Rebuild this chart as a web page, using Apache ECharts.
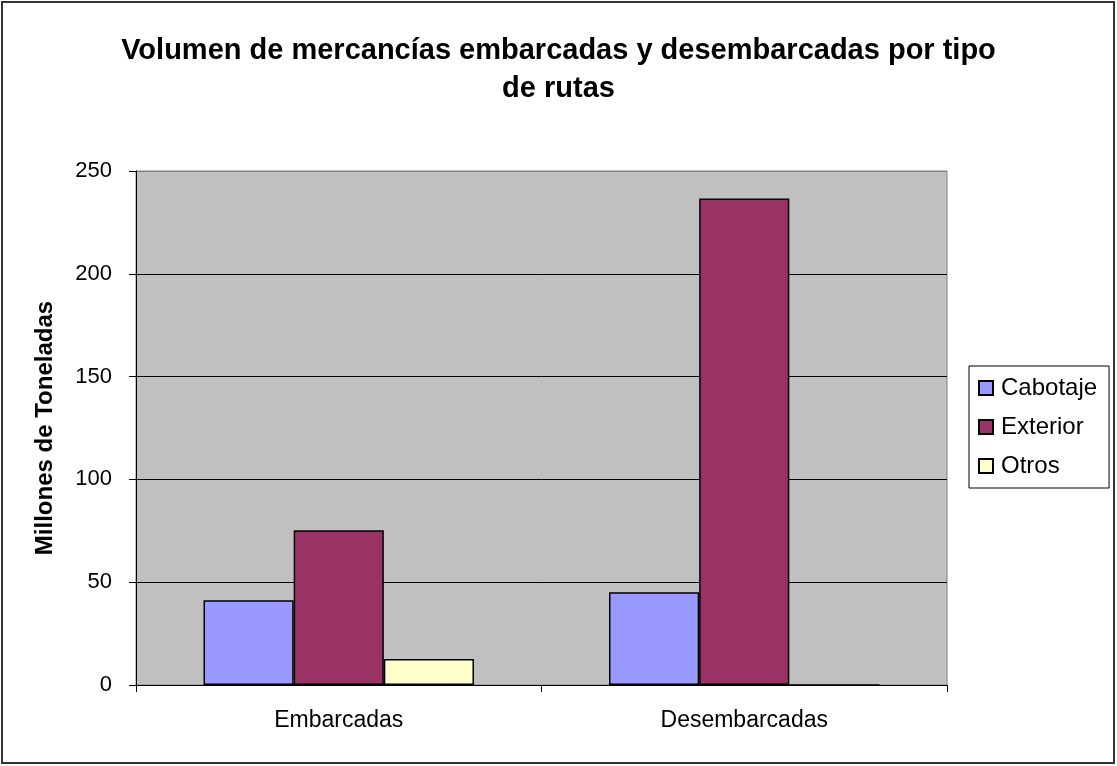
<!DOCTYPE html>
<html>
<head>
<meta charset="utf-8">
<script src="https://cdn.jsdelivr.net/npm/echarts@6/dist/echarts.min.js"></script>
<style>
  html, body { margin: 0; padding: 0; background: #fff; }
  #main { width: 1117px; height: 766px; }
</style>
</head>
<body>
<div id="main"></div>
<script>
// datos del gráfico
var categorias = ['Embarcadas', 'Desembarcadas'];
var cabotaje = [41.2, 45.1];
var exterior = [75.3, 236.6];
var otros = [12.6, 0];
var nombresSeries = ['Cabotaje', 'Exterior', 'Otros'];
var colores = ['#9999FF', '#993366', '#FFFFCC'];
var ticksY = [0, 50, 100, 150, 200, 250];

var fuente = 'Liberation Sans';
var myChart = echarts.init(document.getElementById('main'));

function serie(nombre, datos, color) {
  return {
    name: nombre,
    type: 'bar',
    data: datos,
    barGap: '0%',
    barCategoryGap: '33.3%',
    itemStyle: { color: color, borderColor: '#000', borderWidth: 1.5 },
    emphasis: { disabled: true }
  };
}

myChart.setOption({
  animation: false,
  backgroundColor: '#fff',
  textStyle: { fontFamily: fuente },
  title: {
    text: 'Volumen de mercancías embarcadas y desembarcadas por tipo\nde rutas',
    left: 'center',
    top: 27,
    textStyle: { fontFamily: fuente, fontSize: 29, fontWeight: 'bold', color: '#000', lineHeight: 38 }
  },
  graphic: [{
    type: 'rect',
    shape: { x: 2, y: 2, width: 1112, height: 761 },
    style: { fill: 'none', stroke: '#333', lineWidth: 2 },
    silent: true
  }],
  legend: {
    orient: 'vertical',
    left: 969,
    top: 366,
    data: nombresSeries,
    icon: 'rect',
    itemWidth: 14,
    itemHeight: 14,
    itemGap: 15,
    padding: [10, 12, 10, 9],
    borderColor: '#000',
    borderWidth: 1,
    textStyle: { fontFamily: fuente, fontSize: 24, color: '#000', padding: [0, 0, 0, 3] }
  },
  grid: {
    left: 136,
    right: 170,
    top: 171,
    bottom: 81,
    show: true,
    backgroundColor: '#C0C0C0',
    borderColor: '#808080',
    borderWidth: 1
  },
  xAxis: {
    type: 'category',
    data: categorias,
    axisLine: { lineStyle: { color: '#000', width: 1 } },
    axisTick: { show: true, length: 7, lineStyle: { color: '#000' } },
    axisLabel: { margin: 24, fontSize: 23, color: '#000', fontFamily: fuente }
  },
  yAxis: {
    type: 'value',
    min: 0,
    max: 250,
    interval: 50,
    name: 'Millones de Toneladas',
    nameLocation: 'middle',
    nameGap: 79,
    nameTextStyle: { fontFamily: fuente, fontSize: 24, fontWeight: 'bold', color: '#000' },
    axisLine: { show: true, lineStyle: { color: '#000', width: 1 } },
    axisTick: { show: true, length: 7, lineStyle: { color: '#000' } },
    axisLabel: {
      margin: 24, fontSize: 22, color: '#000', fontFamily: fuente,
      formatter: function (v) { return ticksY.indexOf(v) >= 0 ? String(v) : ''; }
    },
    splitLine: { show: true, lineStyle: { color: ['#000', '#000', '#000', '#000', '#000', '#808080'], width: 1 } }
  },
  series: [
    serie(nombresSeries[0], cabotaje, colores[0]),
    serie(nombresSeries[1], exterior, colores[1]),
    serie(nombresSeries[2], otros, colores[2])
  ]
});
</script>
</body>
</html>
